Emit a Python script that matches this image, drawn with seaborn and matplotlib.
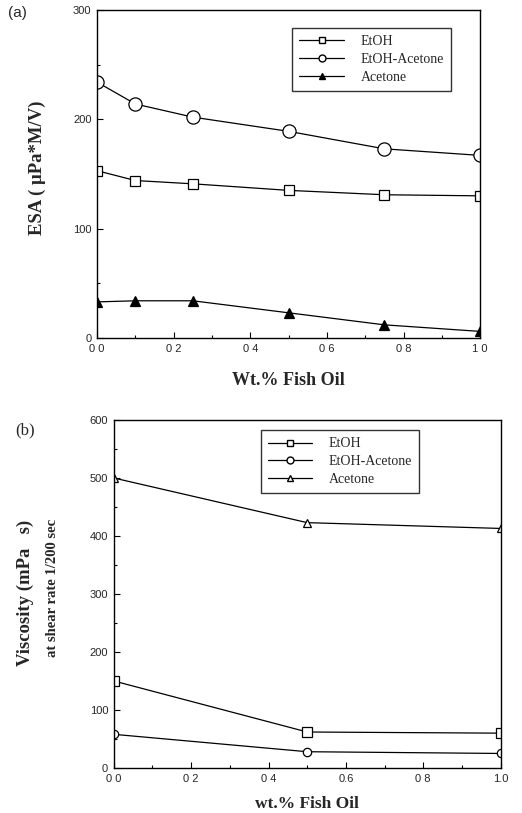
import matplotlib
matplotlib.use("Agg")
import matplotlib.pyplot as plt
from matplotlib.lines import Line2D
from matplotlib.ticker import MultipleLocator
import seaborn as sns
import numpy as np

# ---- data: panel (a) ESA ----
a_x = [0.0, 0.1, 0.25, 0.5, 0.75, 1.0]
a_etoh = [153, 144, 141, 135, 131, 130]
a_etoh_acetone = [234, 214, 202, 189, 173, 167]
a_acetone = [33, 34, 34, 23, 12, 6]

# ---- data: panel (b) viscosity ----
b_x = [0.0, 0.5, 1.0]
b_etoh = [150, 62, 60]
b_etoh_acetone = [58, 28, 25]
b_acetone = [500, 423, 413]

series_names = ["EtOH", "EtOH-Acetone", "Acetone"]
x_ticks = [0.0, 0.2, 0.4, 0.6, 0.8, 1.0]
x_ticklabels_a = ["0 0", "0 2", "0 4", "0 6", "0 8", "1 0"]
x_ticklabels_b = ["0 0", "0 2", "0 4", "0.6", "0 8", "1.0"]

sns.set_theme(style="ticks")
plt.rcParams["font.family"] = ["Liberation Serif", "DejaVu Serif"]
plt.rcParams["xtick.direction"] = "in"
plt.rcParams["ytick.direction"] = "in"

fig = plt.figure(figsize=(5.22, 8.13), dpi=100)
ax1 = fig.add_axes([0.186, 0.5843, 0.734, 0.4034])
ax2 = fig.add_axes([0.218, 0.0554, 0.741, 0.428])

tickfont = {"family": ["Liberation Sans", "DejaVu Sans"], "size": 8}


def style_axes(ax, ylim, ymaj, ymin, xticklabels):
    ax.set_xlim(0, 1.0)
    ax.set_ylim(*ylim)
    ax.set_xticks(x_ticks)
    ax.set_xticklabels(xticklabels, fontdict=tickfont)
    ax.xaxis.set_minor_locator(MultipleLocator(0.1))
    ax.yaxis.set_major_locator(MultipleLocator(ymaj))
    ax.yaxis.set_minor_locator(MultipleLocator(ymin))
    for lbl in ax.get_yticklabels():
        lbl.set_fontfamily(["Liberation Sans", "DejaVu Sans"])
        lbl.set_fontsize(8)
    ax.tick_params(which="both", direction="in", top=False, right=False,
                   color="black", pad=4)
    ax.tick_params(which="major", length=4, width=0.8)
    ax.tick_params(which="minor", length=2.5, width=0.8)
    for s in ax.spines.values():
        s.set_visible(True)
        s.set_color("black")
        s.set_linewidth(1.0)
    ax.set_facecolor("white")


# panel (a)
specs_a = [
    (a_etoh, "s", "white", 7),
    (a_etoh_acetone, "o", "white", 9.5),
    (a_acetone, "^", "black", 7),
]
for name, (vals, mk, fc, ms) in zip(series_names, specs_a):
    sns.lineplot(x=a_x, y=vals, ax=ax1, color="black", linewidth=0.9,
                 marker=mk, markersize=ms, markerfacecolor=fc,
                 markeredgecolor="black", markeredgewidth=0.9, legend=False)
style_axes(ax1, (0, 300), 100, 50, x_ticklabels_a)
ax1.set_xlabel("Wt.% Fish Oil", fontsize=13, fontweight="bold", labelpad=13)
ax1.set_ylabel("ESA ( μPa*M/V)", fontsize=13.5, fontweight="bold")
ax1.yaxis.set_label_coords(-0.133, 0.52)

handles_a = [Line2D([], [], color="black", lw=0.9, marker=mk, markersize=5,
                    markerfacecolor=fc, markeredgecolor="black")
             for (_, mk, fc, _) in specs_a]
leg = ax1.legend(handles_a, series_names, loc="upper left",
                 bbox_to_anchor=(0.51, 0.945), fontsize=10, handlelength=3.2,
                 frameon=True, fancybox=False, borderpad=0.5, labelspacing=0.35,
                 handletextpad=1.2, borderaxespad=0)
leg.get_frame().set_edgecolor("black")
leg.get_frame().set_linewidth(1.0)

# panel (b)
specs_b = [
    (b_etoh, "s", "white", 6.5),
    (b_etoh_acetone, "o", "white", 6),
    (b_acetone, "^", "white", 6),
]
for name, (vals, mk, fc, ms) in zip(series_names, specs_b):
    sns.lineplot(x=b_x, y=vals, ax=ax2, color="black", linewidth=0.9,
                 marker=mk, markersize=ms, markerfacecolor=fc,
                 markeredgecolor="black", markeredgewidth=0.9, legend=False)
style_axes(ax2, (0, 600), 100, 50, x_ticklabels_b)
ax2.set_xlabel("wt.% Fish Oil", fontsize=12.5, fontweight="bold", labelpad=9)
ax2.set_ylabel("")

handles_b = [Line2D([], [], color="black", lw=0.9, marker=mk, markersize=5,
                    markerfacecolor=fc, markeredgecolor="black")
             for (_, mk, fc, _) in specs_b]
leg2 = ax2.legend(handles_b, series_names, loc="upper left",
                  bbox_to_anchor=(0.38, 0.97), fontsize=10, handlelength=3.2,
                  frameon=True, fancybox=False, borderpad=0.5, labelspacing=0.35,
                  handletextpad=1.2, borderaxespad=0)
leg2.get_frame().set_edgecolor("black")
leg2.get_frame().set_linewidth(1.0)

fig.text(25 / 522, 1 - 593 / 813, "Viscosity (mPa   s)", rotation=90,
         ha="center", va="center", fontsize=13.5, fontweight="bold")
fig.text(53 / 522, 1 - 588 / 813, "at shear rate 1/200 sec", rotation=90,
         ha="center", va="center", fontsize=10.5, fontweight="bold")

fig.text(8 / 522, 1 - 13 / 813, "(a)", ha="left", va="center", fontsize=11,
         family=["Liberation Sans", "DejaVu Sans"])
fig.text(15 / 522, 1 - 430 / 813, "(b)", ha="left", va="center", fontsize=12)

fig.savefig("out.png", dpi=100, facecolor="white")
